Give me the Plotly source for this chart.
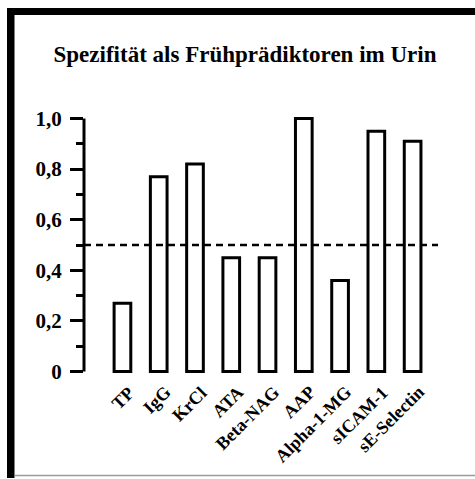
import plotly.graph_objects as go

categories = ["TP", "IgG", "KrCl", "ATA", "Beta-NAG", "AAP", "Alpha-1-MG", "sICAM-1", "sE-Selectin"]
values = [0.27, 0.77, 0.82, 0.45, 0.45, 1.0, 0.36, 0.95, 0.91]
y_tickvals = [0, 0.2, 0.4, 0.6, 0.8, 1.0]
y_ticktext = ["0", "0,2", "0,4", "0,6", "0,8", "1,0"]
threshold = 0.5
title_text = "Spezifität als Frühprädiktoren im Urin"

W, H = 475, 479
L, R = 84, 438
T, B = 115.5, 374.5

def px2x(p):
    return (p - L) / (R - L)

def px2y(p):
    return (B - p) / (B - T)

font_family = "Liberation Serif, Times New Roman, serif"

fig = go.Figure()
fig.add_trace(go.Bar(
    x=categories, y=values, width=0.46,
    marker=dict(color="white", line=dict(color="black", width=3)),
))

shapes = [
    dict(type="line", xref="paper", yref="y", x0=0, x1=0, y0=0, y1=1.0,
         line=dict(color="black", width=3)),
    dict(type="line", xref="paper", yref="y", x0=0, x1=1, y0=threshold, y1=threshold,
         line=dict(color="black", width=2.5, dash="7px,5px")),
    dict(type="rect", xref="paper", yref="paper", x0=px2x(7), x1=px2x(14.5),
         y0=px2y(479), y1=px2y(7), fillcolor="black", line=dict(width=0)),
    dict(type="rect", xref="paper", yref="paper", x0=px2x(7), x1=px2x(475),
         y0=px2y(14), y1=px2y(7), fillcolor="black", line=dict(width=0)),
    dict(type="line", xref="paper", yref="paper", x0=px2x(15), x1=px2x(475),
         y0=px2y(476.5), y1=px2y(476.5), line=dict(color="#9a9a9a", width=1.5)),
]

annotations = [
    dict(x=c, xref="x", y=px2y(380), yref="paper", text=c, showarrow=False,
         textangle=-45, xanchor="right", yanchor="top", xshift=18.5,
         font=dict(size=18, family=font_family, color="black", weight="bold"))
    for c in categories
]

fig.update_layout(
    width=W, height=H,
    margin=dict(l=L, r=W - R, t=T, b=H - B, pad=0),
    paper_bgcolor="white", plot_bgcolor="white",
    showlegend=False,
    shapes=shapes,
    annotations=annotations,
    font=dict(family=font_family, color="black", weight="bold"),
    title=dict(text=title_text, x=245 / W, xanchor="center", xref="container",
               y=1 - 54 / H, yanchor="middle", yref="container",
               font=dict(size=23, family=font_family, color="black", weight="bold")),
    xaxis=dict(range=[-1.06, 8.7], showline=False, showgrid=False, zeroline=False,
               ticks="", showticklabels=False),
    yaxis=dict(range=[-0.01, 1.01], showline=False, showgrid=False, zeroline=False,
               tickvals=y_tickvals, ticktext=y_ticktext,
               ticks="outside", ticklen=13, tickwidth=3, tickcolor="black",
               ticklabelstandoff=4,
               minor=dict(dtick=0.1, tick0=0, ticks="outside", ticklen=7, tickwidth=3,
                          tickcolor="black"),
               tickfont=dict(size=21, family=font_family, color="black", weight="bold")),
)

fig.write_html("out.html", config={"displayModeBar": False},
               post_script="document.body.style.margin='0';")
